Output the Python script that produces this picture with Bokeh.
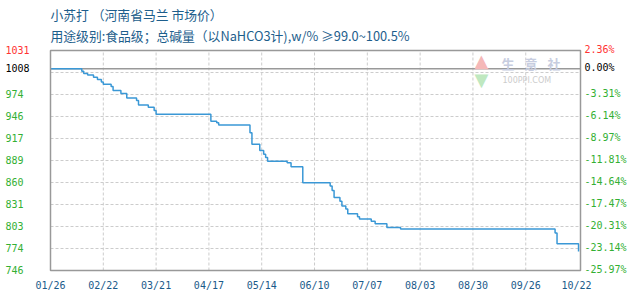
import pandas as pd
import numpy as np
from bokeh.plotting import figure
from bokeh.models import Range1d, ColumnDataSource
from bokeh.core.properties import value
from bokeh.embed import file_html
from bokeh.resources import INLINE

# ---------------- data ----------------
title_line1 = "小苏打 （河南省马兰 市场价）"
title_line2 = "用途级别:食品级；总碱量（以NaHCO3计),w/% ≥99.0~100.5%"

base_date = "2023-01-26"
end_date = "2023-10-24"

change_dates = [
    "2023-01-26", "2023-02-10", "2023-02-11", "2023-02-12", "2023-02-14", "2023-02-17",
    "2023-02-19", "2023-02-21", "2023-02-22", "2023-02-26", "2023-02-27", "2023-03-03",
    "2023-03-06", "2023-03-11", "2023-03-12", "2023-03-17", "2023-03-20", "2023-03-21",
    "2023-04-18", "2023-04-21", "2023-04-22", "2023-05-08", "2023-05-09", "2023-05-13",
    "2023-05-15", "2023-05-16", "2023-05-17", "2023-05-27", "2023-05-29", "2023-06-04",
    "2023-06-18", "2023-06-19", "2023-06-20", "2023-06-23", "2023-06-24", "2023-06-26",
    "2023-06-27", "2023-07-02", "2023-07-03", "2023-07-09", "2023-07-11", "2023-07-17",
    "2023-07-24", "2023-10-11", "2023-10-12", "2023-10-23",
]
prices = [
    1008, 1008, 1005, 1002, 1000, 997,
    994, 991, 988, 985, 980, 976,
    970, 967, 961, 958, 954, 949,
    940, 938, 935, 925, 910, 902,
    897, 893, 888, 886, 881, 860,
    856, 850, 841, 836, 830, 826,
    820, 816, 813, 810, 807, 802,
    800, 795, 781, 771,
]

x_tick_dates = ["2023-01-26", "2023-02-22", "2023-03-21", "2023-04-17", "2023-05-14",
                "2023-06-10", "2023-07-07", "2023-08-03", "2023-08-30", "2023-09-26",
                "2023-10-22"]
x_tick_labels = ["01/26", "02/22", "03/21", "04/17", "05/14", "06/10",
                 "07/07", "08/03", "08/30", "09/26", "10/22"]

ref_price = 1008
y_bottom = 746.22
y_top = 1031.79
y_left_labels = ["746", "774", "803", "831", "860", "889", "917", "946", "974", "", "1031"]
y_right_labels = ["-25.97%", "-23.14%", "-20.31%", "-17.47%", "-14.64%", "-11.81%",
                  "-8.97%", "-6.14%", "-3.31%", "", "2.36%"]
ref_left_label = "1008"
ref_right_label = "0.00%"

# ---------------- layout & styles ----------------
W, H = 630, 300
M_L, M_R, M_T, M_B = 50, 50, 50, 30
LINE_C = "#3a98d6"
GRID_C = "#cccccc"
FRAME_C = "#999999"
BLUE_TXT = "#1a5a8a"
TITLE_C = "#1d5e8c"
RED = "#ff3333"
GREEN = "#33b033"
MONO = "DejaVu Sans Mono"
CJK = "Noto Sans CJK SC"

base = pd.Timestamp(base_date)
days = (pd.to_datetime(change_dates) - base).days.to_numpy()
x_end = (pd.Timestamp(end_date) - base).days
tick_days = (pd.to_datetime(x_tick_dates) - base).days.to_numpy()
y_ticks = np.linspace(y_bottom, y_top, len(y_left_labels))

# ranges extended so that the plotting box sits inside the margins
kx = (W - M_L - M_R) / x_end
ky = (H - M_T - M_B) / (y_top - y_bottom)
x_range = Range1d(0 - M_L / kx, x_end + M_R / kx)
y_range = Range1d(y_bottom - M_B / ky, y_top + M_T / ky)

p = figure(width=W, height=H, output_backend="svg", toolbar_location=None,
           x_range=x_range, y_range=y_range,
           x_axis_location=None, y_axis_location=None,
           min_border_left=0, min_border_right=0, min_border_top=0, min_border_bottom=0,
           background_fill_color="white", border_fill_color="white")
p.outline_line_color = None
p.grid.visible = False

# dashed grid
vx = tick_days[1:-1]
p.segment(x0=vx, y0=[y_bottom] * len(vx), x1=vx, y1=[y_top] * len(vx),
          line_color=GRID_C, line_width=1, line_dash="3 2")
p.segment(x0=[0] * len(y_ticks), y0=y_ticks, x1=[x_end] * len(y_ticks), y1=y_ticks,
          line_color=GRID_C, line_width=1, line_dash="3 2")

# reference line
p.segment(x0=[0], y0=[ref_price], x1=[x_end], y1=[ref_price],
          line_color=FRAME_C, line_width=1.5)

# price line
src = ColumnDataSource(dict(x=days, y=prices))
p.step("x", "y", source=src, mode="after", line_color=LINE_C, line_width=1.5)

# plot box
p.quad(left=[0], right=[x_end], bottom=[y_bottom], top=[y_top],
       fill_color=None, line_color=FRAME_C, line_width=1.5)

# y labels
ys, lts, rts, cols = [], [], [], []
for i, (lt, rt) in enumerate(zip(y_left_labels, y_right_labels)):
    if not lt:
        continue
    ys.append(y_ticks[i]); lts.append(lt); rts.append(rt)
    cols.append(RED if i == len(y_left_labels) - 1 else GREEN)
ys.append(ref_price); lts.append(ref_left_label); rts.append(ref_right_label); cols.append("#000000")

lab = ColumnDataSource(dict(xl=[0] * len(ys), xr=[x_end] * len(ys), y=ys, lt=lts, rt=rts, c=cols))
p.text(x="xl", y="y", text="lt", source=lab, x_offset=-45, y_offset=-1,
       text_align="left", text_baseline="middle", text_color="c",
       text_font=value(MONO), text_font_size="10px")
p.text(x="xr", y="y", text="rt", source=lab, x_offset=4, y_offset=-1,
       text_align="left", text_baseline="middle", text_color="c",
       text_font=value(MONO), text_font_size="10px")

# x labels
xl = ColumnDataSource(dict(x=tick_days, y=[y_bottom] * len(tick_days), t=x_tick_labels))
p.text(x="x", y="y", text="t", source=xl, y_offset=15,
       text_align="center", text_baseline="middle", text_color=BLUE_TXT,
       text_font=value(MONO), text_font_size="10px")

# titles
p.text(x=[0], y=[y_top], text=[title_line1], y_offset=-36,
       text_align="left", text_baseline="middle", text_color=TITLE_C,
       text_font=value(CJK), text_font_size="12.8px")
p.text(x=[0], y=[y_top], text=[title_line2], y_offset=-15,
       text_align="left", text_baseline="middle", text_color=TITLE_C,
       text_font=value(CJK), text_font_size="12.8px")

# watermark (生意社 logo)
p.text(x=[x_end], y=[y_top], text=["▲"], x_offset=-106, y_offset=10,
       text_align="left", text_baseline="middle", text_color="#f5b8b8",
       text_font=value("DejaVu Sans"), text_font_size="18px")
p.text(x=[x_end], y=[y_top], text=["▼"], x_offset=-106, y_offset=29,
       text_align="left", text_baseline="middle", text_color="#bfe8c0",
       text_font=value("DejaVu Sans"), text_font_size="18px")
for k, ch in enumerate("生意社"):
    p.text(x=[x_end], y=[y_top], text=[ch], x_offset=-79 + 23 * k, y_offset=13,
           text_align="left", text_baseline="middle", text_color="#c7cde0",
           text_font=value(CJK), text_font_size="13px", text_font_style="bold")
p.text(x=[x_end], y=[y_top], text=["100PPI.COM"], x_offset=-78, y_offset=30,
       text_align="left", text_baseline="middle", text_color="#cccccc",
       text_font=value("DejaVu Sans"), text_font_size="8px")

open("out.html", "w").write(file_html(p, INLINE))
